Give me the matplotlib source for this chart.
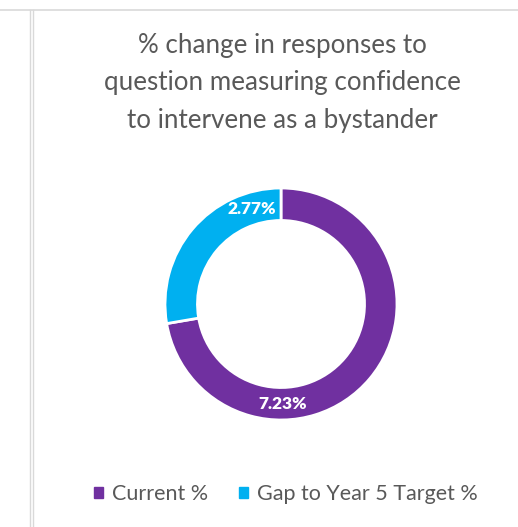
import matplotlib.pyplot as plt
from matplotlib.lines import Line2D
import numpy as np

labels = ['Current %', 'Gap to Year 5 Target %']
values = [7.23, 2.77]
colors = ['#7030A0', '#00B0F0']
title = '% change in responses to\nquestion measuring confidence\nto intervene as a bystander'

W, H = 518, 527
fig = plt.figure(figsize=(W / 100, H / 100), dpi=100)
plt.rcParams['font.family'] = ['Lato', 'DejaVu Sans']

# frame lines like the spreadsheet border
grey = '#d9d9d9'
fig.add_artist(Line2D([0, 1], [1 - 9.5 / H, 1 - 9.5 / H], transform=fig.transFigure, color=grey, lw=1.2))
for xp in (30, 33):
    fig.add_artist(Line2D([xp / W, xp / W], [0, 1 - 9.5 / H], transform=fig.transFigure, color=grey, lw=1.0))

fig.text(282 / W, 1 - 33 / H, title, ha='center', va='top', fontsize=18.7,
         color='#595959', linespacing=1.62)

# donut
cx, cy, r = 281, 304, 116
ax = fig.add_axes([(cx - r) / W, 1 - (cy + r) / H, 2 * r / W, 2 * r / H])
wedges, _ = ax.pie(values, colors=colors, startangle=90, counterclock=False,
                   radius=1, wedgeprops=dict(width=0.28, edgecolor='white', linewidth=2))
ax.set_xlim(-1, 1)
ax.set_ylim(-1, 1)
ax.axis('off')

# data labels (placed like the original Excel labels)
label_angles = [-89, 107]
for v, a in zip(values, label_angles):
    t = np.deg2rad(a)
    ax.text(0.86 * np.cos(t), 0.86 * np.sin(t), f'{v:.2f}%', ha='center', va='center',
            color='white', fontsize=12.5, fontweight='heavy')

handles = [plt.Rectangle((0, 0), 1, 1, color=c) for c in colors]
fig.legend(handles, labels, loc='center', bbox_to_anchor=(286 / W, 1 - 494 / H), ncol=2,
           frameon=False, fontsize=15.5, handlelength=0.42, handleheight=0.42,
           handletextpad=0.4, columnspacing=1.45, labelcolor='#595959')

fig.savefig('out.png', dpi=100, facecolor='white')
